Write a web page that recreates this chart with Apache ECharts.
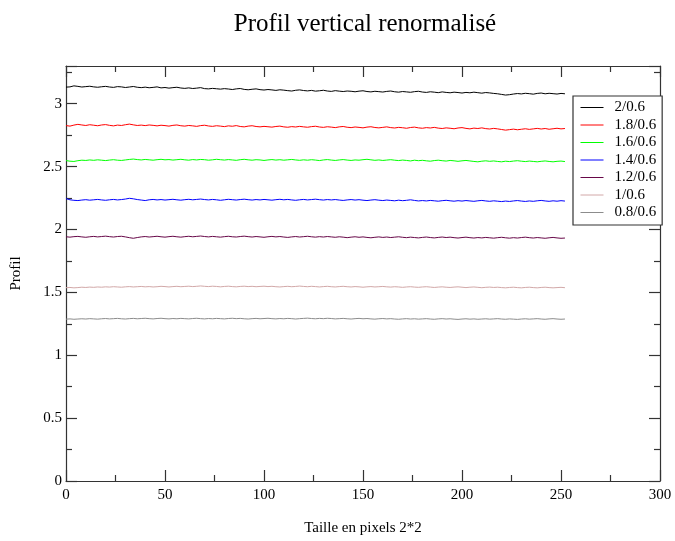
<!DOCTYPE html>
<html><head><meta charset="utf-8">
<script src="https://cdn.jsdelivr.net/npm/echarts@6/dist/echarts.min.js"></script>
<style>html,body{margin:0;padding:0;background:#fff}#c{width:675px;height:541px}</style>
</head><body><div id="c"></div>
<script>
const xs = [0,2,4,6,8,10,12,14,16,18,20,22,24,26,28,30,32,34,36,38,40,42,44,46,48,50,52,54,56,58,60,62,64,66,68,70,72,74,76,78,80,82,84,86,88,90,92,94,96,98,100,102,104,106,108,110,112,114,116,118,120,122,124,126,128,130,132,134,136,138,140,142,144,146,148,150,152,154,156,158,160,162,164,166,168,170,172,174,176,178,180,182,184,186,188,190,192,194,196,198,200,202,204,206,208,210,212,214,216,218,220,222,224,226,228,230,232,234,236,238,240,242,244,246,248,250,252];

const names = ["2/0.6","1.8/0.6","1.6/0.6","1.4/0.6","1.2/0.6","1/0.6","0.8/0.6"];
const colors = ["#000000","#ff0000","#00ff00","#0000ff","#670748","#d2a8a8","#8c8c8c"];

const s20 = [3.132,3.134,3.142,3.138,3.133,3.136,3.139,3.134,3.131,3.135,
3.138,3.133,3.130,3.136,3.134,3.129,3.133,3.137,3.131,3.128,
3.132,3.127,3.130,3.134,3.126,3.129,3.124,3.128,3.131,3.125,
3.122,3.126,3.121,3.124,3.128,3.120,3.118,3.122,3.119,3.116,
3.120,3.117,3.113,3.118,3.121,3.114,3.111,3.115,3.118,3.112,
3.109,3.113,3.110,3.106,3.111,3.108,3.104,3.101,3.107,3.110,
3.105,3.102,3.106,3.100,3.103,3.107,3.101,3.098,3.104,3.100,
3.097,3.101,3.099,3.095,3.100,3.103,3.097,3.094,3.099,3.096,
3.093,3.098,3.101,3.095,3.092,3.097,3.094,3.091,3.096,3.099,
3.093,3.090,3.095,3.092,3.088,3.094,3.090,3.087,3.092,3.089,
3.085,3.090,3.087,3.092,3.088,3.084,3.089,3.086,3.082,3.079,
3.074,3.069,3.072,3.077,3.081,3.078,3.083,3.080,3.076,3.082,
3.085,3.079,3.083,3.080,3.077,3.082,3.079];

const s18 = [2.826,2.822,2.830,2.836,2.831,2.827,2.833,2.829,2.825,2.831,
2.834,2.828,2.824,2.830,2.827,2.833,2.838,2.832,2.827,2.830,
2.826,2.831,2.828,2.824,2.829,2.826,2.822,2.828,2.831,2.825,
2.822,2.827,2.824,2.820,2.826,2.829,2.823,2.820,2.825,2.822,
2.818,2.824,2.821,2.826,2.819,2.816,2.822,2.825,2.819,2.816,
2.820,2.817,2.814,2.819,2.822,2.816,2.813,2.818,2.815,2.820,
2.816,2.813,2.818,2.821,2.815,2.812,2.817,2.814,2.810,2.816,
2.819,2.813,2.810,2.815,2.812,2.808,2.814,2.817,2.811,2.808,
2.812,2.816,2.810,2.807,2.812,2.809,2.805,2.811,2.814,2.808,
2.805,2.810,2.807,2.812,2.806,2.803,2.808,2.805,2.801,2.807,
2.810,2.804,2.800,2.806,2.803,2.808,2.802,2.799,2.804,2.800,
2.795,2.790,2.794,2.798,2.793,2.797,2.801,2.796,2.800,2.804,
2.799,2.803,2.797,2.801,2.805,2.800,2.803];

const s16 = [2.548,2.543,2.541,2.547,2.551,2.549,2.553,2.550,2.554,2.551,
2.548,2.552,2.555,2.551,2.549,2.553,2.557,2.560,2.556,2.553,
2.557,2.554,2.551,2.555,2.558,2.554,2.556,2.552,2.555,2.558,
2.554,2.551,2.556,2.553,2.557,2.555,2.551,2.554,2.558,2.555,
2.552,2.556,2.553,2.550,2.555,2.558,2.554,2.551,2.555,2.553,
2.549,2.553,2.556,2.552,2.555,2.551,2.554,2.557,2.553,2.550,
2.554,2.551,2.555,2.552,2.548,2.553,2.556,2.552,2.549,2.553,
2.556,2.552,2.549,2.553,2.551,2.555,2.558,2.554,2.550,2.553,
2.549,2.552,2.555,2.551,2.548,2.552,2.549,2.545,2.551,2.547,
2.550,2.546,2.543,2.548,2.551,2.547,2.544,2.549,2.546,2.542,
2.546,2.549,2.545,2.541,2.538,2.543,2.546,2.542,2.545,2.541,
2.538,2.543,2.540,2.544,2.547,2.543,2.540,2.544,2.541,2.538,
2.542,2.545,2.541,2.538,2.542,2.544,2.540];

const s14 = [2.246,2.236,2.232,2.230,2.234,2.237,2.233,2.236,2.239,2.235,
2.232,2.236,2.239,2.235,2.238,2.242,2.248,2.244,2.238,2.234,
2.230,2.236,2.239,2.235,2.238,2.234,2.237,2.240,2.236,2.233,
2.237,2.240,2.236,2.239,2.242,2.238,2.235,2.239,2.236,2.232,
2.236,2.240,2.237,2.234,2.238,2.241,2.237,2.234,2.238,2.235,
2.239,2.236,2.233,2.237,2.240,2.236,2.239,2.235,2.232,2.236,
2.239,2.235,2.238,2.241,2.237,2.234,2.238,2.235,2.238,2.234,
2.231,2.235,2.238,2.234,2.237,2.233,2.230,2.234,2.237,2.233,
2.230,2.234,2.231,2.228,2.233,2.229,2.232,2.236,2.231,2.227,
2.230,2.227,2.231,2.228,2.225,2.229,2.232,2.228,2.225,2.229,
2.226,2.230,2.227,2.224,2.228,2.231,2.227,2.224,2.228,2.225,
2.222,2.226,2.223,2.227,2.230,2.226,2.223,2.227,2.224,2.228,
2.231,2.227,2.224,2.228,2.225,2.229,2.226];

const s12 = [1.942,1.939,1.943,1.945,1.941,1.938,1.942,1.945,1.941,1.944,
1.947,1.943,1.940,1.944,1.946,1.941,1.935,1.930,1.936,1.941,
1.944,1.940,1.943,1.946,1.942,1.939,1.943,1.946,1.942,1.939,
1.943,1.946,1.942,1.945,1.948,1.944,1.941,1.945,1.942,1.939,
1.943,1.946,1.942,1.940,1.944,1.947,1.943,1.940,1.944,1.941,
1.938,1.942,1.945,1.941,1.944,1.940,1.937,1.941,1.944,1.940,
1.943,1.946,1.942,1.939,1.943,1.940,1.944,1.941,1.938,1.942,
1.939,1.935,1.939,1.942,1.938,1.941,1.937,1.934,1.938,1.941,
1.937,1.940,1.936,1.939,1.942,1.938,1.935,1.939,1.936,1.933,
1.937,1.940,1.936,1.933,1.937,1.940,1.936,1.939,1.935,1.932,
1.936,1.939,1.935,1.932,1.936,1.933,1.937,1.934,1.931,1.935,
1.938,1.934,1.931,1.935,1.932,1.936,1.939,1.935,1.932,1.936,
1.933,1.930,1.934,1.937,1.933,1.930,1.932];

const s10 = [1.537,1.539,1.536,1.538,1.541,1.539,1.542,1.540,1.543,1.541,
1.544,1.542,1.545,1.543,1.541,1.544,1.546,1.543,1.545,1.547,
1.544,1.546,1.543,1.545,1.548,1.546,1.543,1.546,1.548,1.545,
1.547,1.549,1.546,1.548,1.551,1.548,1.546,1.549,1.547,1.544,
1.547,1.549,1.546,1.544,1.547,1.549,1.546,1.548,1.545,1.547,
1.549,1.546,1.548,1.545,1.543,1.546,1.548,1.545,1.547,1.550,
1.547,1.545,1.548,1.546,1.543,1.546,1.548,1.545,1.543,1.546,
1.548,1.545,1.543,1.546,1.544,1.541,1.544,1.546,1.543,1.545,
1.547,1.544,1.542,1.545,1.543,1.540,1.543,1.545,1.542,1.540,
1.543,1.545,1.542,1.539,1.542,1.544,1.541,1.539,1.542,1.544,
1.541,1.538,1.541,1.543,1.540,1.537,1.540,1.542,1.539,1.541,
1.538,1.536,1.539,1.541,1.538,1.536,1.539,1.541,1.538,1.536,
1.539,1.541,1.538,1.536,1.538,1.540,1.537];

const s08 = [1.287,1.289,1.286,1.288,1.290,1.288,1.291,1.289,1.287,1.290,
1.292,1.289,1.291,1.293,1.290,1.288,1.291,1.293,1.290,1.292,
1.294,1.291,1.289,1.292,1.294,1.291,1.289,1.292,1.290,1.293,
1.291,1.289,1.292,1.294,1.291,1.289,1.292,1.290,1.293,1.291,
1.289,1.292,1.294,1.291,1.293,1.290,1.288,1.291,1.293,1.290,
1.292,1.294,1.291,1.289,1.292,1.290,1.293,1.291,1.288,1.291,
1.293,1.295,1.292,1.290,1.293,1.291,1.294,1.292,1.289,1.291,
1.293,1.290,1.288,1.291,1.293,1.290,1.292,1.289,1.287,1.290,
1.292,1.289,1.291,1.288,1.286,1.289,1.291,1.288,1.290,1.287,
1.289,1.291,1.288,1.286,1.289,1.291,1.288,1.290,1.287,1.285,
1.288,1.290,1.287,1.289,1.286,1.288,1.290,1.287,1.289,1.291,
1.288,1.286,1.289,1.287,1.285,1.288,1.290,1.287,1.289,1.291,
1.288,1.286,1.289,1.291,1.288,1.286,1.288];

const seriesValues = [s20, s18, s16, s14, s12, s10, s08];

const FONT = '"Liberation Serif", "DejaVu Serif", serif';
const AX = '#333';

function axisCommon(showLabel) {
  return {
    axisLine: { show: true, onZero: false, lineStyle: { color: AX, width: 1.2 } },
    axisTick: { show: true, inside: true, length: 11, lineStyle: { color: AX, width: 1.2 } },
    minorTick: { show: true, splitNumber: 2, length: 6, lineStyle: { color: AX, width: 1.2 } },
    splitLine: { show: false },
    axisLabel: { show: showLabel, color: '#000', fontFamily: FONT, fontSize: 15 }
  };
}

const chart = echarts.init(document.getElementById('c'), null, { renderer: 'canvas' });
const option = {
  animation: false,
  backgroundColor: '#fff',
  title: {
    text: 'Profil vertical renormalisé',
    left: 360, top: 7, textAlign: 'center',
    textStyle: { fontFamily: FONT, fontSize: 25, fontWeight: 'normal', color: '#000' }
  },
  grid: { left: 66, right: 15, top: 66, bottom: 58, containLabel: false },
  legend: {
    left: 573, top: 96, orient: 'vertical',
    data: names,
    itemWidth: 23, itemHeight: 14, itemGap: 2.5,
    padding: [4, 6, 5, 7],
    borderColor: '#333', borderWidth: 1.2, backgroundColor: '#fff',
    itemStyle: { opacity: 0 },
    lineStyle: { width: 1 },
    textStyle: { fontFamily: FONT, fontSize: 15, lineHeight: 14, color: '#000', padding: [0, 0, 0, 6] }
  },
  xAxis: [
    Object.assign({ type: 'value', position: 'bottom', min: 0, max: 300, interval: 50,
      name: 'Taille en pixels 2*2', nameLocation: 'middle', nameGap: 40,
      nameTextStyle: { fontFamily: FONT, fontSize: 15, color: '#000' } }, axisCommon(true)),
    Object.assign({ type: 'value', position: 'top', min: 0, max: 300, interval: 50 }, axisCommon(false))
  ],
  yAxis: [
    Object.assign({ type: 'value', position: 'left', min: 0, max: 3.3, interval: 0.5,
      name: 'Profil', nameLocation: 'middle', nameGap: 42,
      nameTextStyle: { fontFamily: FONT, fontSize: 15, color: '#000' } }, axisCommon(true)),
    Object.assign({ type: 'value', position: 'right', min: 0, max: 3.3, interval: 0.5 }, axisCommon(false))
  ],
  series: names.map((n, i) => ({
    name: n, type: 'line', xAxisIndex: 0, yAxisIndex: 0,
    showSymbol: false, symbol: 'none',
    lineStyle: { color: colors[i], width: 1 },
    itemStyle: { color: colors[i] },
    data: xs.map((x, j) => [x, seriesValues[i][j]])
  }))
};
option.yAxis[0].axisLabel.showMaxLabel = false;
option.yAxis[0].axisLabel.margin = 4;
option.xAxis[0].axisLabel.margin = 7;
chart.setOption(option);
</script></body></html>
